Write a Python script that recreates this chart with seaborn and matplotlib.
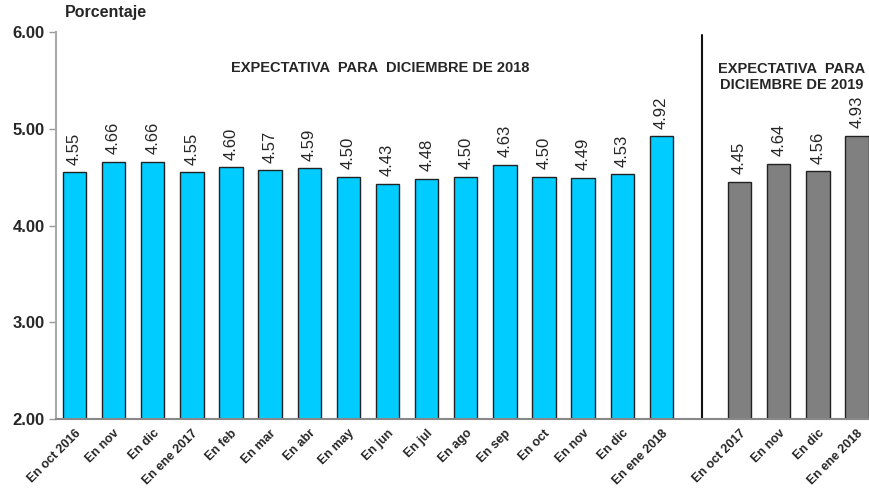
import matplotlib
matplotlib.use("Agg")
import matplotlib.pyplot as plt
import seaborn as sns
import pandas as pd

labels_2018 = ["En oct 2016", "En nov", "En dic", "En ene 2017", "En feb", "En mar",
               "En abr", "En may", "En jun", "En jul", "En ago", "En sep", "En oct",
               "En nov", "En dic", "En ene 2018"]
values_2018 = [4.55, 4.66, 4.66, 4.55, 4.60, 4.57, 4.59, 4.50, 4.43, 4.48, 4.50,
               4.63, 4.50, 4.49, 4.53, 4.92]
labels_2019 = ["En oct 2017", "En nov", "En dic", "En ene 2018"]
values_2019 = [4.45, 4.64, 4.56, 4.93]
yticks = [2.0, 3.0, 4.0, 5.0, 6.0]

sns.set_theme(style="white")
plt.rcParams['font.family'] = ['Liberation Sans', 'DejaVu Sans']

pos_2018 = list(range(len(values_2018)))
pos_2019 = [len(values_2018) + 1 + i for i in range(len(values_2019))]
df = pd.DataFrame({
    "pos": pos_2018 + pos_2019,
    "value": values_2018 + values_2019,
    "group": ["2018"] * len(values_2018) + ["2019"] * len(values_2019),
    "label": labels_2018 + labels_2019,
})

fig = plt.figure(figsize=(8.7, 4.92), dpi=100)
ax = fig.add_axes([56 / 870, 1 - 419 / 492, 1 - 56 / 870, (419 - 32) / 492])

sns.barplot(data=df, x="pos", y="value", hue="group",
            palette={"2018": "#00CCFF", "2019": "#808080"}, saturation=1,
            native_scale=True, width=0.6, dodge=False,
            edgecolor="#222222", linewidth=1.0, legend=False, ax=ax)

ax.set_ylim(2.0, 6.0)
ax.set_xlim(-(74.5 - 56) / 39.125, (870 - 74.5) / 39.125)
ax.set_yticks(yticks)
ax.set_yticklabels([f"{v:.2f}" for v in yticks], fontsize=12, fontweight="bold")
ax.set_xticks(df["pos"])
ax.set_xticklabels(df["label"], rotation=45, ha="right", rotation_mode="anchor",
                   fontsize=9, fontweight="bold")
ax.tick_params(axis="x", length=0, pad=6)
ax.tick_params(axis="y", length=5, width=1, color="#999999", left=True, pad=3)
ax.set_xlabel("")
ax.set_ylabel("")
for s in ["top", "right"]:
    ax.spines[s].set_visible(False)
ax.spines["left"].set_color("#AAAAAA")
ax.spines["left"].set_linewidth(1.5)
ax.spines["bottom"].set_color("#888888")
ax.spines["bottom"].set_linewidth(1.5)

for p, v in zip(df["pos"], df["value"]):
    ax.annotate(f"{v:.2f}", xy=(p, v), xytext=(0, 5.5), textcoords="offset points",
                rotation=90, ha="center", va="bottom", fontsize=12)

sep_x = len(values_2018) + 0.03
ax.plot([sep_x, sep_x], [2.0, 5.97], color="#111111", linewidth=1.5, clip_on=False)

fig.text(65 / 870, 1 - 12 / 492, "Porcentaje", fontsize=11.5, fontweight="bold",
         ha="left", va="center")
fig.text(380 / 870, 1 - 68 / 492, "EXPECTATIVA  PARA  DICIEMBRE DE 2018", fontsize=10.5,
         fontweight="bold", ha="center", va="center")
fig.text(792 / 870, 1 - 77 / 492, "EXPECTATIVA  PARA\nDICIEMBRE DE 2019", fontsize=10.5,
         fontweight="bold", ha="center", va="center", linespacing=1.2)

fig.savefig("out.png", dpi=100)
